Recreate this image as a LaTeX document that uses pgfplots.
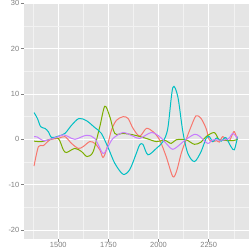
\documentclass[border=0pt]{standalone}
\usepackage{pgfplots}
\pgfplotsset{compat=1.18}
\usepackage{fontspec}
\setmainfont{Liberation Sans}
\definecolor{cred}{HTML}{F8766D}
\definecolor{cgreen}{HTML}{7CAE00}
\definecolor{ccyan}{HTML}{00BFC4}
\definecolor{cpurple}{HTML}{C77CFF}
\definecolor{panel}{HTML}{E5E5E5}
\definecolor{minorg}{HTML}{F2F2F2}
\definecolor{tickg}{HTML}{7F7F7F}
\begin{document}
\begin{tikzpicture}[x=1bp,y=1bp]
\clip (-24bp,-10bp) rectangle (225bp,239bp);
\begin{axis}[
  at={(0,0)}, anchor=south west,
  scale only axis,
  width=225bp, height=236bp,
  xmin=1329, xmax=2451,
  ymin=-21.98, ymax=30.07,
  axis background/.style={fill=panel},
  axis line style={draw=none},
  xtick={1500,1750,2000,2250},
  ytick={-20,-10,0,10,20,30},
  minor xtick={1375,1625,1875,2125,2375},
  minor ytick={-15,-5,5,15,25},
  grid=both,
  major grid style={white, line width=0.9pt},
  minor grid style={minorg, line width=0.5pt},
  tick align=outside,
  major tick length=3bp,
  minor tick length=0pt,
  tick style={tickg, line width=0.5pt},
  xtick pos=bottom, ytick pos=left,
  tick label style={font=\fontsize{7.5}{8}\selectfont, text=tickg},
  /pgf/number format/assume math mode=true,
  /pgf/number format/1000 sep={},
  xticklabel style={inner sep=0.8bp, yshift=1bp},
  yticklabel style={inner sep=1.5bp},
  clip=true,
]
\addplot[cred, line width=1pt, smooth, tension=0.5] coordinates {
(1379,-5.9)(1401,-1.6)(1425,-1.4)(1459,-0.1)(1500,0.2)(1533,0.6)(1566,-0.9)(1600,-2.0)(1624,-1.6)(1657,-0.5)(1682,-0.9)(1707,-2.3)(1723,-4.0)(1740,-2.3)(1765,2.0)(1790,4.2)(1823,5.0)(1848,4.6)(1873,2.4)(1906,0.7)(1939,2.4)(1972,1.7)(2005,-0.1)(2038,-3.8)(2071,-8.2)(2090,-7.0)(2113,-3.1)(2137,-0.1)(2162,2.8)(2187,5.2)(2212,4.6)(2237,2.4)(2253,-0.1)(2270,-0.5)(2290,-0.3)(2303,-0.6)(2320,0.6)(2340,-0.3)(2355,-0.2)(2370,1.3)(2378,1.7)(2394,-0.1)
};
\addplot[cgreen, line width=1pt, smooth, tension=0.5] coordinates {
(1379,-0.4)(1417,-0.5)(1459,0)(1500,0.2)(1525,-2.3)(1541,-2.9)(1583,-2.0)(1616,-2.7)(1644,-3.8)(1674,-2.7)(1707,2.8)(1732,7.3)(1757,5.0)(1782,1.3)(1823,1.3)(1873,1.0)(1939,0.2)(1989,-0.5)(2030,-0.2)(2063,-0.9)(2088,-0.1)(2137,-0.1)(2179,-1.1)(2212,-0.6)(2237,0.6)(2278,1.5)(2303,-0.1)(2340,-0.2)(2370,-0.3)(2394,0)
};
\addplot[ccyan, line width=1pt, smooth, tension=0.5] coordinates {
(1379,5.9)(1396,4.6)(1412,2.8)(1434,2.4)(1450,1.7)(1467,0.4)(1500,0.7)(1533,1.3)(1566,3.1)(1603,4.6)(1641,4.1)(1682,2.6)(1715,1.3)(1750,-2.0)(1782,-5.3)(1823,-7.7)(1856,-6.7)(1889,-3.1)(1906,-1.2)(1922,-1.1)(1947,-3.4)(1989,-2.0)(2022,-0.5)(2046,2.4)(2071,11.4)(2096,9.4)(2121,1.7)(2146,-3.1)(2179,-4.9)(2212,-2.7)(2237,0.2)(2253,0.6)(2270,-0.5)(2290,0.3)(2312,-0.4)(2335,0.4)(2361,-1.6)(2378,-2.3)(2394,0.6)
};
\addplot[cpurple, line width=1pt, smooth, tension=0.5] coordinates {
(1379,0.6)(1396,0.5)(1425,-0.3)(1459,0)(1500,0.6)(1525,1.0)(1550,0.6)(1583,0)(1641,0.9)(1682,0.2)(1723,-3.1)(1748,-1.6)(1773,0.2)(1823,1.5)(1873,0.7)(1906,0.2)(1964,1.5)(2005,0.6)(2038,-0.9)(2071,-2.2)(2113,-0.9)(2137,0)(2179,1.1)(2204,0.7)(2245,-0.9)(2270,-0.1)(2320,-0.2)(2350,0.2)(2370,1.3)(2394,0.2)
};
\end{axis}
\end{tikzpicture}
\end{document}
